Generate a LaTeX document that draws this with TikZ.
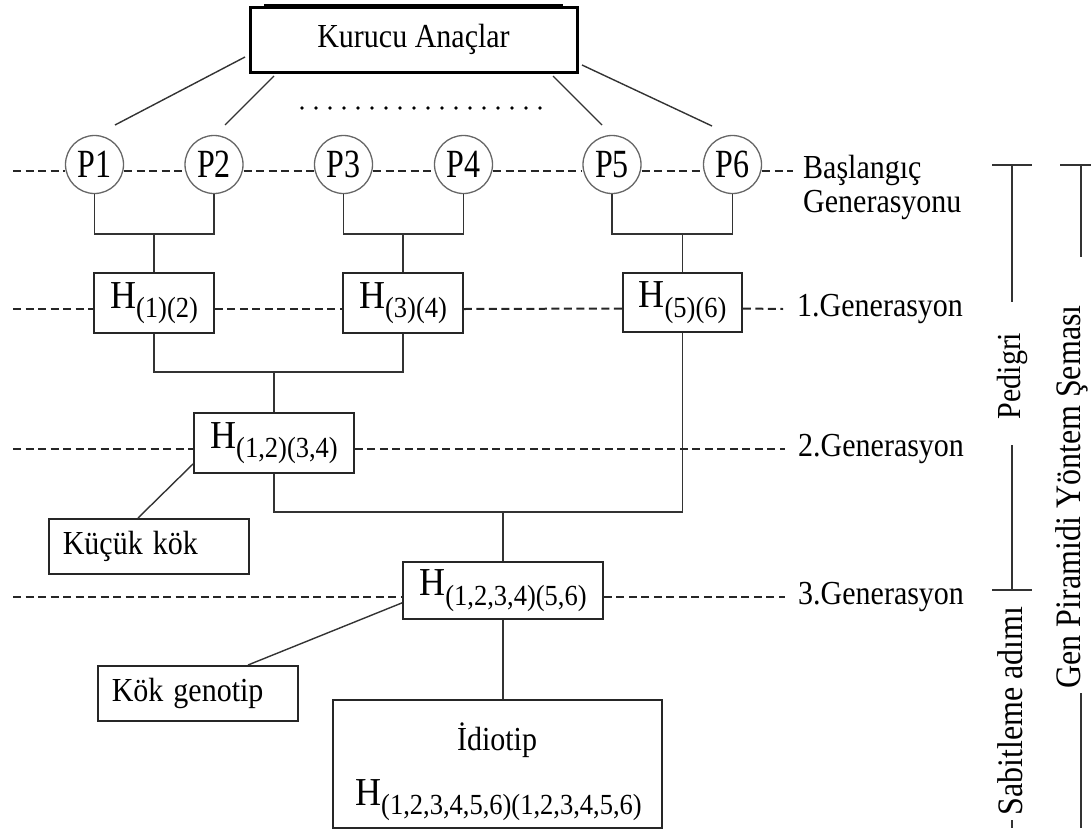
\documentclass[tikz,border=0pt]{standalone}
\usepackage{fontspec}
\setmainfont{Liberation Serif}
\usetikzlibrary{calc}

% font helpers
\newcommand\txtsize{\fontsize{30}{34}\selectfont}
\newcommand\st[1]{\scalebox{1}[1.12]{#1}}
\newcommand\bigH{{\fontsize{36}{40}\selectfont H}}
\newcommand\Hlab[1]{\scalebox{1}[1.1]{\bigH\raisebox{-8.5pt}{\fontsize{26.5}{30}\selectfont #1}}}
\newcommand\plab[1]{{\fontsize{32}{36}\selectfont\scalebox{1}[1.25]{#1}}}

\begin{document}
\begin{tikzpicture}[x=1pt,y=-1pt,
  conn/.style={draw=black!80, line width=1.6pt},
  genline/.style={draw=black!85, line width=2pt, dash pattern=on 8pt off 4.5pt},
  parent/.style={circle, draw=black!60, line width=1.3pt, minimum size=58pt, inner sep=0pt},
  hbox/.style={draw=black!85, line width=1.6pt, inner sep=0pt},
  notebox/.style={draw=black!85, line width=1.6pt, minimum height=55pt, text width=172pt,
    inner xsep=14pt, inner ysep=0pt, align=left, font=\txtsize, anchor=north west},
  lbl/.style={font=\txtsize, inner sep=0pt, anchor=base west},
  side/.style={line width=1.6pt, draw=black!80},
  sidelbl/.style={rotate=90, anchor=base, inner sep=0pt}
]
\useasboundingbox (0,0) rectangle (1091,838);

% founder box with its thickened top edge
\node[draw=black, line width=3pt, minimum width=327pt, minimum height=65pt, inner sep=0pt,
  outer sep=0pt, font=\txtsize] (kur) at (413.5,39.5) {\st{Kurucu Anaçlar}};
\draw[line width=3pt, black] ($(kur.north west)+(14,-1.5)$) -- ($(kur.north east)+(-14,-1.5)$);

% parents
\foreach \n/\x in {1/94.5, 2/214, 3/343.5, 4/463.5, 5/612, 6/732.5}
  \node[parent] (P\n) at (\x,164.5) {\plab{P\n}};

% links from the founder box
\coordinate (a1) at (245,57);  \coordinate (b1) at (115,125);
\coordinate (a2) at (274,76);  \coordinate (b2) at (225,125);
\coordinate (a3) at (553,76);  \coordinate (b3) at (602,125);
\coordinate (a4) at (582,65);  \coordinate (b4) at (712,126);
\foreach \i in {1,2,3,4} \draw[conn, line width=1.4pt] (a\i) -- (b\i);
\coordinate (d1) at (302,108); \coordinate (d2) at (540.5,108);
\draw[line width=3.6pt, line cap=round, dash pattern=on 0pt off 14pt, black] (d1) -- (d2);

% hybrids
\node[hbox, minimum width=120pt, minimum height=60pt] (H12) at (154,303) {\Hlab{(1)(2)}};
\node[hbox, minimum width=120pt, minimum height=60pt] (H34) at (403,303) {\Hlab{(3)(4)}};
\node[hbox, minimum width=119pt, minimum height=59pt] (H56) at (682.5,302.5) {\Hlab{(5)(6)}};
\node[hbox, minimum width=160pt, minimum height=60pt] (H1234) at (274,443) {\Hlab{(1,2)(3,4)}};
\node[hbox, minimum width=200pt, minimum height=57pt] (H123456) at (503,590.5) {\Hlab{(1,2,3,4)(5,6)}};
\node[hbox, minimum width=329pt, minimum height=128pt] (idio) at (497.5,764) {};
\node[font=\txtsize, anchor=base, inner sep=0pt] (idt) at (497,750) {\st{İdiotip}};
\node[anchor=base west, inner sep=0pt] (idf) at (355,805) {\Hlab{(1,2,3,4,5,6)(1,2,3,4,5,6)}};

% crossing scheme
\coordinate (j12) at (154,234);
\coordinate (j34) at (403,234);
\coordinate (j56) at (682.5,234);
\draw[conn] (P1.south) |- (j12) -| (P2.south);
\draw[conn] (P3.south) |- (j34) -| (P4.south);
\draw[conn] (P5.south) |- (j56) -| (P6.south);
\draw[conn] (j12) -- (H12.north);
\draw[conn] (j34) -- (H34.north);
\draw[conn] (j56) -- (H56.north);
\coordinate (j1234) at (274,372);
\draw[conn] (H12.south) |- (j1234) -| (H34.south);
\draw[conn] (j1234) -- (H1234.north);
\coordinate (jall) at (503,512);
\draw[conn] (H1234.south) |- (jall) -| (H56.south);
\draw[conn] (jall) -- (H123456.north);
\draw[conn] (H123456.south) -- (H123456.south |- idio.north);

% notes
\node[notebox] (kucuk) at (48,518) {\st{Küçük kök}};
\node[notebox] (kok) at (97,665) {\st{Kök genotip}};
\draw[conn, line width=1.4pt] ($(kucuk.north west)+(90,0)$) -- ($(H1234.south west)+(0,-10)$);
\draw[conn, line width=1.4pt] ($(kok.north west)+(151,0)$) -- ($(H123456.south west)+(0,-17)$);

% generation lines
\coordinate (g0s) at (13,171);  \coordinate (g0e) at (793,171);
\draw[genline] (g0s) -- ([yshift=-6.5pt]P1.west);
\foreach \a/\b in {1/2,2/3,3/4,4/5,5/6}
  \draw[genline] ([yshift=-6.5pt]P\a.east) -- ([yshift=-6.5pt]P\b.west);
\draw[genline] ([yshift=-6.5pt]P6.east) -- (g0e);

\coordinate (g1s) at (13,309);  \coordinate (g1e) at (783,309);
\draw[genline] (g1s) -- ([yshift=-6pt]H12.west);
\draw[genline] ([yshift=-6pt]H12.east) -- ([yshift=-6pt]H34.west);
\draw[genline] ([yshift=-6pt]H34.east) -- ([yshift=-6pt]H56.west);
\draw[genline] ([yshift=-6pt]H56.east) -- (g1e);

\coordinate (g2s) at (13,449);  \coordinate (g2e) at (785,449);
\draw[genline] (g2s) -- ([yshift=-6pt]H1234.west);
\draw[genline] ([yshift=-6pt]H1234.east) -- (g2e);

\coordinate (g3s) at (13,597);  \coordinate (g3e) at (785,597);
\draw[genline] (g3s) -- ([yshift=-6.5pt]H123456.west);
\draw[genline] ([yshift=-6.5pt]H123456.east) -- (g3e);

% generation names
\node[lbl] (lb0a) at (803,178) {\st{Başlangıç}};
\node[lbl] (lb0b) at (803,212) {\st{Generasyonu}};
\node[lbl] (lb1) at (797,316) {\st{1.Generasyon}};
\node[lbl] (lb2) at (798,456) {\st{2.Generasyon}};
\node[lbl] (lb3) at (798,604) {\st{3.Generasyon}};

% brackets on the right
\draw[side] (992,165) -- (1032,165);
\draw[side] (1012,165) -- (1012,302);
\node[sidelbl, font=\fontsize{30}{34}\selectfont] (ped) at (1020,376) {\st{Pedigri}};
\draw[side] (1012,445) -- (1012,590);
\draw[side] (992,590) -- (1032,590);
\node[sidelbl, font=\fontsize{32}{36}\selectfont] (sab) at (1022,711) {\st{Sabitleme adımı}};
\draw[side] (1012,820) -- (1012,828);

\draw[side] (1060,165) -- (1091,165);
\draw[side] (1081,165) -- (1081,257);
\node[sidelbl, font=\fontsize{32}{36}\selectfont] (gps) at (1080,497) {\st{Gen Piramidi Yöntem Şeması}};
\draw[side] (1081,693) -- (1081,828);
\end{tikzpicture}
\end{document}
